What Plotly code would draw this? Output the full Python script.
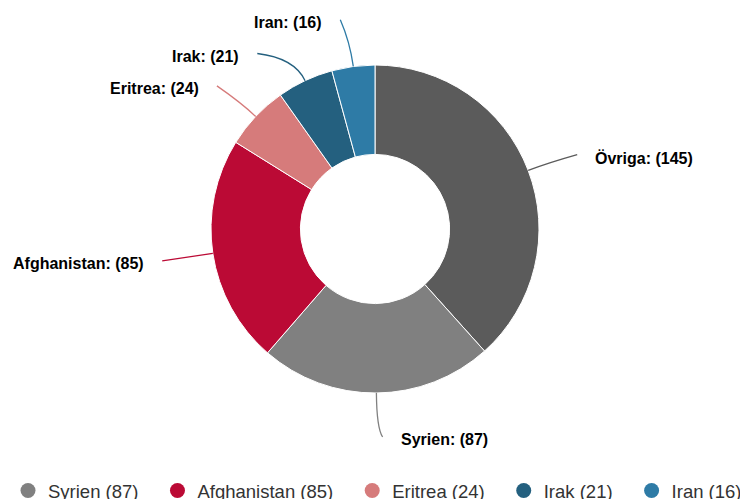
import math
import plotly.graph_objects as go

# ---- data ----
categories = ["Övriga", "Syrien", "Afghanistan", "Eritrea", "Irak", "Iran"]
values = [145, 87, 85, 24, 21, 16]
colors = ["#5b5b5b", "#808080", "#bb0a35", "#d67b7b", "#24607f", "#2e7ba6"]
legend_categories = ["Syrien", "Afghanistan", "Eritrea", "Irak", "Iran"]

# ---- layout constants (pixels, figure coordinates; page adds 8px body margin) ----
W, H = 748, 499
OFF = 8
CX, CY, R = 375 - OFF, 229 - OFF, 164
HOLE = 0.455
LABEL_DIST = 30
nudge = {"Övriga": (21, -5), "Syrien": (6, 14), "Afghanistan": (-21, 3),
         "Eritrea": (-17, -10), "Irak": (-35, 0), "Iran": (-9, -17)}
ctrl_k = {"Övriga": 20, "Syrien": 35, "Afghanistan": 18,
          "Eritrea": 20, "Irak": 25, "Iran": 25}

fig = go.Figure()

fig.add_trace(go.Pie(
    labels=categories, values=values, sort=False, direction="clockwise",
    rotation=0, hole=HOLE, textinfo="none", hoverinfo="label+value",
    marker=dict(colors=colors, line=dict(color="white", width=1)),
    showlegend=False,
    domain=dict(x=[(CX - R) / W, (CX + R) / W], y=[1 - (CY + R) / H, 1 - (CY - R) / H]),
))

PAD = "\u00a0\u00a0\u2009"
for j, name in enumerate(legend_categories):
    i = categories.index(name)
    pad = PAD if j < len(legend_categories) - 1 else ""
    fig.add_trace(go.Scatter(
        x=[None], y=[None], mode="markers", name=f"{name} ({values[i]}){pad}",
        marker=dict(color=colors[i], size=15, symbol="circle"),
        hoverinfo="skip",
    ))

total = sum(values)
shapes = []
annotations = []
cum = 0
for name, v, c in zip(categories, values, colors):
    mid = (cum + v / 2) / total * 2 * math.pi
    cum += v
    sx, sy = math.sin(mid), -math.cos(mid)
    ex, ey = CX + R * sx, CY + R * sy
    ax = CX + (R + LABEL_DIST) * sx + nudge[name][0]
    ay = CY + (R + LABEL_DIST) * sy + nudge[name][1]
    k = ctrl_k[name]
    qx, qy = ex + k * sx, ey + k * sy
    shapes.append(dict(type="path", xref="x", yref="y",
                       path=f"M {ex:.1f},{ey:.1f} Q {qx:.1f},{qy:.1f} {ax:.1f},{ay:.1f}",
                       line=dict(color=c, width=1.3), layer="above"))
    right = sx >= 0
    tx = ax + 16 if right else ax - 16
    annotations.append(dict(x=tx, y=ay + 3, xref="x", yref="y", showarrow=False,
                            text=f"<b>{name}: ({v})</b>",
                            xanchor="left" if right else "right", yanchor="middle",
                            font=dict(family="Liberation Sans, Arial, sans-serif", size=16, color="#000000")))

fig.update_layout(
    width=W, height=H,
    margin=dict(l=0, r=0, t=0, b=0, autoexpand=False),
    paper_bgcolor="white", plot_bgcolor="rgba(0,0,0,0)",
    xaxis=dict(range=[0, W], visible=False, fixedrange=True, domain=[0, 1]),
    yaxis=dict(range=[H, 0], visible=False, fixedrange=True, domain=[0, 1]),
    shapes=shapes, annotations=annotations,
    showlegend=True,
    legend=dict(orientation="h", x=0, xanchor="left", y=(H - (491 - OFF)) / H, yanchor="middle",
                font=dict(family="Liberation Sans, Arial, sans-serif", size=18.5, color="#333333"),
                itemclick=False, itemdoubleclick=False, bgcolor="rgba(0,0,0,0)"),
)

fig.write_html("out.html")
